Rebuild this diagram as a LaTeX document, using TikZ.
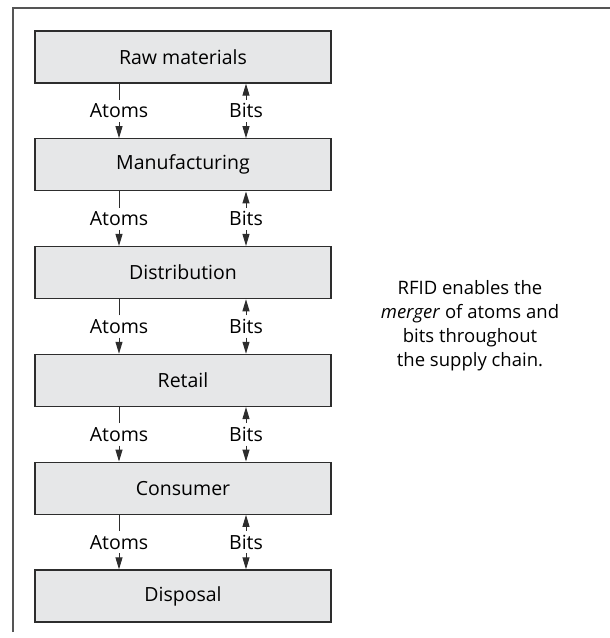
\documentclass[tikz,border=0pt]{standalone}
\usepackage{fontspec}
\setmainfont{Open Sans}
\usetikzlibrary{positioning,arrows.meta}
\definecolor{boxFill}{RGB}{230,231,232}
\definecolor{lineColor}{RGB}{45,45,45}
\definecolor{frameColor}{RGB}{85,85,85}
\tikzstyle{chart} = [x = 1pt, y = -1pt]
\tikzstyle{stageBox} = [draw=lineColor, fill=boxFill, line width=1.3pt, minimum width=296pt, minimum height=52pt, inner sep=0pt, font=\fontsize{19.5}{22}\selectfont]
\tikzstyle{flowText} = [inner sep=0pt, minimum height=22pt, font=\fontsize{19.5}{22}\selectfont]
\tikzstyle{flowLine} = [color=lineColor, line width=1pt]
\tikzstyle{flowArrow} = [flowLine, -{Triangle[length=12pt, width=7pt]}]
\tikzstyle{frameLine} = [color=frameColor, line width=1.5pt]
\tikzstyle{noteText} = [align=center, font=\fontsize{18.5}{24}\selectfont]
\newcommand{\stageLink}[2]{
  \path (#1.south) -- (#2.north) node [flowText, midway, xshift=-64pt] (atoms#1) {Atoms};
  \path (#1.south) -- (#2.north) node [flowText, midway, xshift=63pt] (bits#1) {Bits};
  \draw [flowLine] (atoms#1.north) -- (atoms#1.north |- #1.south);
  \draw [flowArrow] (atoms#1.south) -- (atoms#1.south |- #2.north);
  \draw [flowArrow] (bits#1.north) -- (bits#1.north |- #1.south);
  \draw [flowArrow] (bits#1.south) -- (bits#1.south |- #2.north);
}
\begin{document}
\begin{tikzpicture}[chart]
  \useasboundingbox (0,0) rectangle (610,638);
  \draw [frameLine] (13,632) -- (13,8) -- (610,8);
  % supply chain stages
  \node [stageBox] (raw) at (183,57) {Raw materials};
  \node [stageBox, below=54.5pt of raw] (manufacturing) {Manufacturing};
  \node [stageBox, below=54.5pt of manufacturing] (distribution) {Distribution};
  \node [stageBox, below=54.5pt of distribution] (retail) {Retail};
  \node [stageBox, below=54.5pt of retail] (consumer) {Consumer};
  \node [stageBox, below=54.5pt of consumer] (disposal) {Disposal};
  \stageLink{raw}{manufacturing}
  \stageLink{manufacturing}{distribution}
  \stageLink{distribution}{retail}
  \stageLink{retail}{consumer}
  \stageLink{consumer}{disposal}
  \node [noteText] (note) at (470,326) {RFID enables the\\\textit{merger} of atoms and\\bits throughout\\the supply chain.};
\end{tikzpicture}
\end{document}
